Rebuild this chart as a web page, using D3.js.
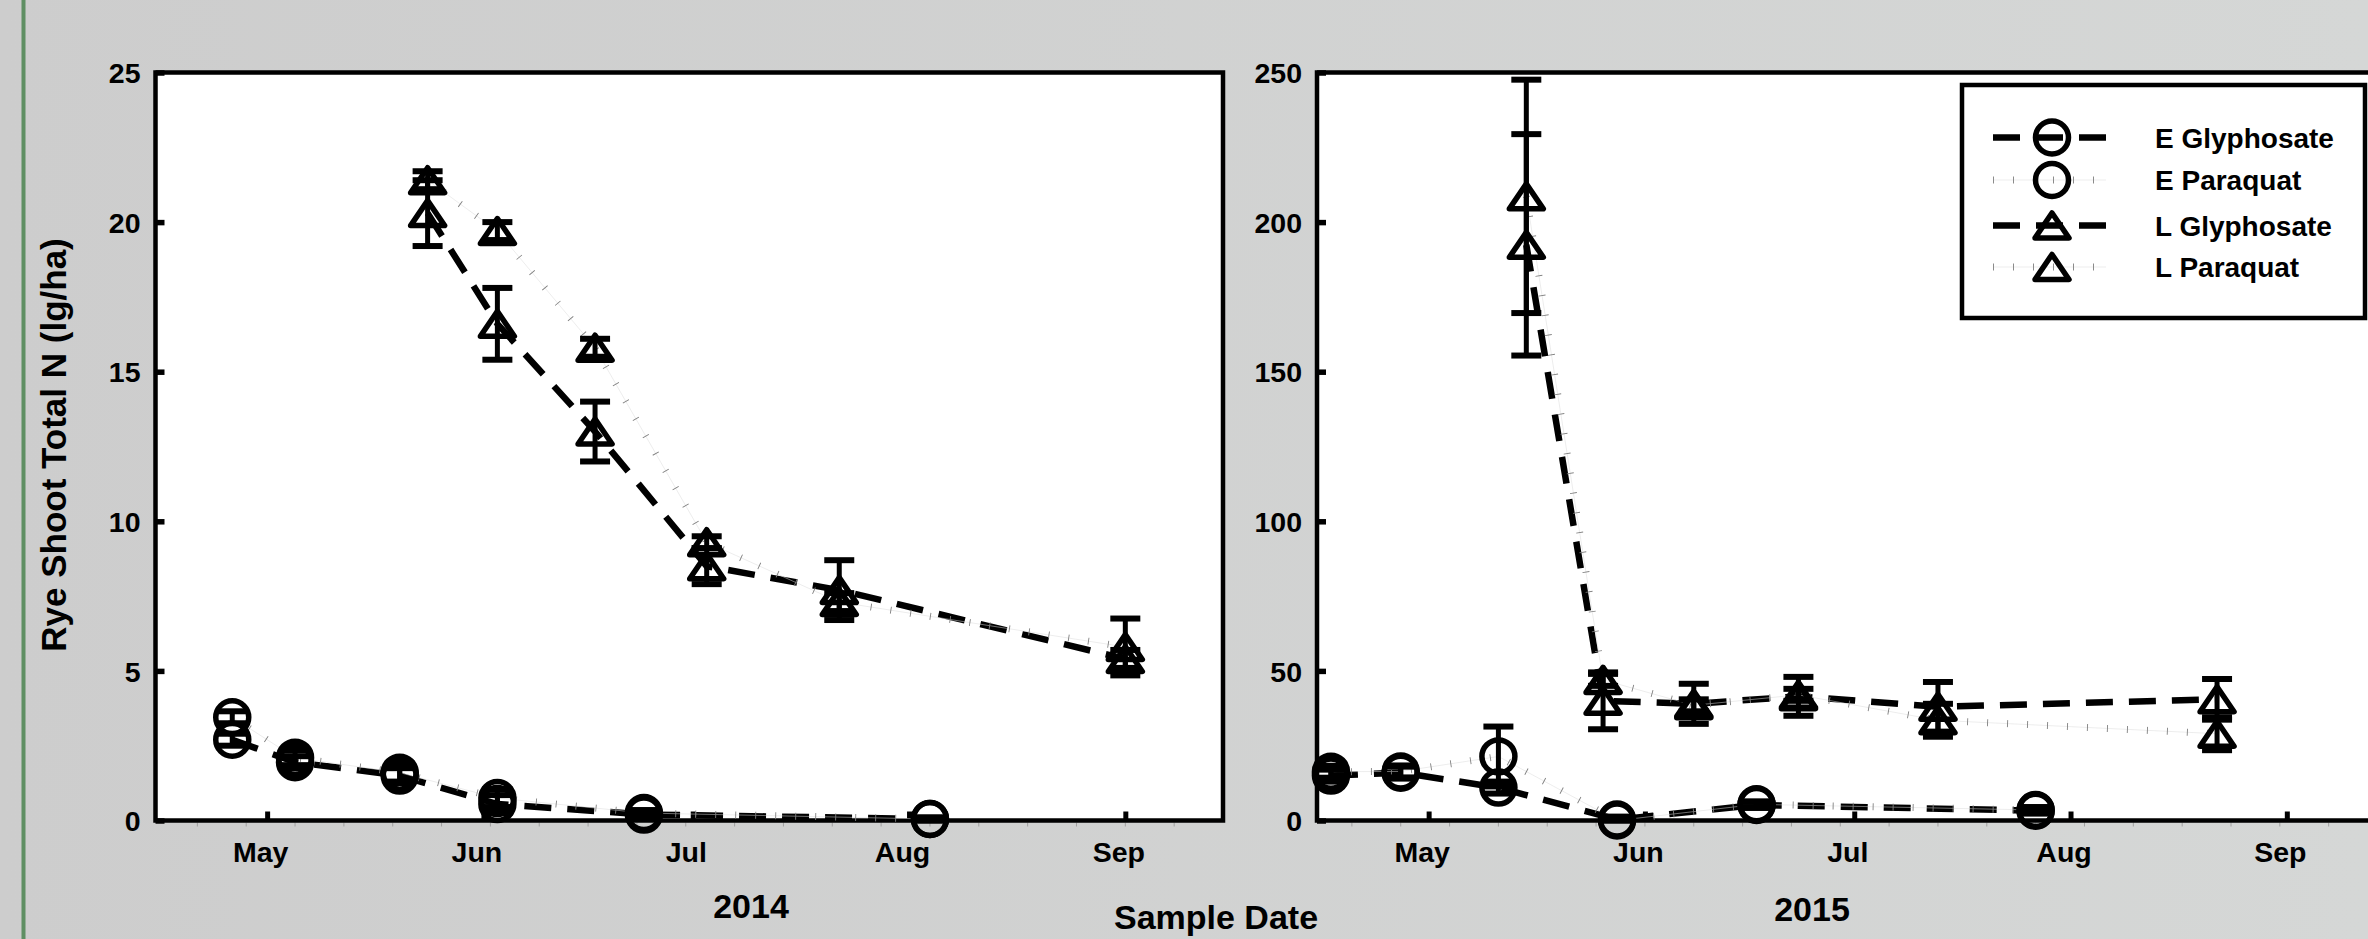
<!DOCTYPE html>
<html><head><meta charset="utf-8">
<script src="https://cdn.jsdelivr.net/npm/d3@7"></script>
<style>
html,body{margin:0;padding:0;background:#d0d0d0;}
svg{display:block}
text{font-family:'Liberation Sans',Arial,sans-serif;font-weight:bold;fill:#000}
</style>
</head><body>
<svg id="c" width="2368" height="939"></svg>
<script>
// ---------------- data ----------------
const seriesNames = ["E Glyphosate", "E Paraquat", "L Glyphosate", "L Paraquat"];
const monthLabels = ["May", "Jun", "Jul", "Aug", "Sep"];
const yearLabels = ["2014", "2015"];
const yTicks2014 = [0, 5, 10, 15, 20, 25];
const yTicks2015 = [0, 50, 100, 150, 200, 250];

// 2014
const eDates2014 = ["2014-04-26", "2014-05-05", "2014-05-20", "2014-06-03", "2014-06-24", "2014-08-04"];
const eGly2014 = [2.7, 1.95, 1.5, 0.55, 0.2, 0.05];
const eGly2014Err = [0.2, 0.2, 0.25, 0.3, 0.1, 0.05];
const ePar2014 = [3.45, 2.1, 1.6, 0.75, 0.25, 0.05];
const ePar2014Err = [0.2, 0.25, 0.3, 0.3, 0.1, 0.05];
const lDates2014 = ["2014-05-24", "2014-06-03", "2014-06-17", "2014-07-03", "2014-07-22", "2014-09-01"];
const lGly2014 = [20.3, 16.6, 13.0, 8.5, 7.7, 5.4];
const lGly2014Err = [1.1, 1.2, 1.0, 0.6, 1.0, 0.3];
const lPar2014 = [21.4, 19.7, 15.8, 9.3, 7.3, 5.8];
const lPar2014Err = [0.3, 0.3, 0.3, 0.2, 0.3, 0.95];

// 2015
const eDates2015 = ["2015-04-17", "2015-04-27", "2015-05-11", "2015-05-28", "2015-06-17", "2015-07-27"];
const eGly2015 = [15.0, 16.0, 11.0, 0.3, 5.2, 3.3];
const eGly2015Err = [2, 2, 2, 1, 1, 1];
const ePar2015 = [16.3, 16.4, 21.4, 0, 5.4, 3.5];
const ePar2015Err = [2, 2, 10, 1, 1, 1];
const lDates2015 = ["2015-05-15", "2015-05-26", "2015-06-08", "2015-06-23", "2015-07-13", "2015-08-22"];
const lGly2015 = [192.4, 40, 39, 41.5, 38, 40.5];
const lGly2015Err = [37, 9.5, 6.7, 6.5, 8.3, 6.8];
const lPar2015 = [208.6, 47, 38.5, 42, 33.5, 29];
const lPar2015Err = [39, 2, 2, 2, 5.5, 5.5];

// ---------------- drawing ----------------
const W = 2368, H = 939;
const parse = d3.timeParse("%Y-%m-%d");
const svg = d3.select("#c");

const defs = svg.append("defs");
const grad = defs.append("linearGradient").attr("id", "bg").attr("x1", 0).attr("x2", 1).attr("y1", 0).attr("y2", 0);
grad.append("stop").attr("offset", 0).attr("stop-color", "#cdcdcd");
grad.append("stop").attr("offset", 1).attr("stop-color", "#d5d7d6");
svg.append("rect").attr("width", W).attr("height", H).attr("fill", "url(#bg)");
svg.append("rect").attr("x", 21.5).attr("y", 0).attr("width", 4).attr("height", H).attr("fill", "#5f8f63");

const TOP = 72.5, BOTTOM = 820.5;
const FRAME_W = 4.5;
const TICK_FONT = "28.5px";

function trianglePath(w, h) {
  return `M0,${-h / 2}L${w / 2},${h / 2}L${-w / 2},${h / 2}Z`;
}

function drawMarker(g, kind, cx, cy) {
  if (kind === "circle") {
    g.append("circle").attr("cx", cx).attr("cy", cy).attr("r", 16.5)
      .attr("fill", "none").attr("stroke", "#000").attr("stroke-width", 5.5);
  } else {
    g.append("path").attr("d", trianglePath(34, 25)).attr("transform", `translate(${cx},${cy})`)
      .attr("fill", "none").attr("stroke", "#000").attr("stroke-width", 5.5).attr("stroke-linejoin", "round");
  }
}

function drawLine(g, pts, style) {
  const line = d3.line().x(d => d[0]).y(d => d[1]);
  if (style === "dash") {
    g.append("path").attr("d", line(pts)).attr("fill", "none").attr("stroke", "#000")
      .attr("stroke-width", 6.5).attr("stroke-dasharray", "27 16");
  } else {
    g.append("path").attr("d", line(pts)).attr("fill", "none").attr("stroke", "#dadada")
      .attr("stroke-width", 0.5);
    g.append("path").attr("d", line(pts)).attr("fill", "none").attr("stroke", "#808080")
      .attr("stroke-width", 7).attr("stroke-dasharray", "0.9 19.1");
  }
}

function drawErr(g, cx, y0, y1) {
  g.append("line").attr("x1", cx).attr("x2", cx).attr("y1", y0).attr("y2", y1)
    .attr("stroke", "#000").attr("stroke-width", 5);
  [y0, y1].forEach(yy => g.append("line").attr("x1", cx - 15).attr("x2", cx + 15)
    .attr("y1", yy).attr("y2", yy).attr("stroke", "#000").attr("stroke-width", 6));
}

function drawPanel(cfg) {
  const x = d3.scaleTime().domain([parse(cfg.start), parse(cfg.end)]).range([cfg.x0, cfg.x1]);
  const y = d3.scaleLinear().domain([0, cfg.ymax]).range([BOTTOM, TOP]);
  const g = svg.append("g");

  g.append("rect").attr("x", cfg.x0).attr("y", TOP).attr("width", cfg.x1 - cfg.x0).attr("height", BOTTOM - TOP)
    .attr("fill", "#fff");

  // weekly minor ticks (outside, faint)
  const mondays = d3.timeMonday.range(x.domain()[0], x.domain()[1]);
  g.selectAll(".mt").data(mondays).join("line")
    .attr("x1", d => x(d)).attr("x2", d => x(d)).attr("y1", BOTTOM + 2).attr("y2", BOTTOM + 6)
    .attr("stroke", "#a0a0a0").attr("stroke-width", 1);

  // axes
  const months = d3.timeMonth.range(x.domain()[0], x.domain()[1]);
  const xAxis = d3.axisBottom(x).tickValues(months).tickSize(-9).tickSizeOuter(0)
    .tickFormat((d, i) => monthLabels[i]);
  const gx = g.append("g").attr("transform", `translate(0,${BOTTOM})`).call(xAxis);
  gx.select(".domain").remove();
  gx.selectAll(".tick line").attr("stroke", "#000").attr("stroke-width", 5);
  gx.selectAll(".tick text").attr("y", 41.5).attr("dy", "0").attr("dx", -7)
    .style("font-size", TICK_FONT).style("font-family", "'Liberation Sans',Arial,sans-serif").style("font-weight", "bold").attr("fill", "#000");

  const yAxis = d3.axisLeft(y).tickValues(cfg.yTicks).tickSize(-9).tickSizeOuter(0).tickPadding(15);
  const gy = g.append("g").attr("transform", `translate(${cfg.x0},0)`).call(yAxis);
  gy.select(".domain").remove();
  gy.selectAll(".tick line").attr("stroke", "#000").attr("stroke-width", 5.5);
  gy.selectAll(".tick text").attr("dy", "0.36em")
    .style("font-size", TICK_FONT).style("font-family", "'Liberation Sans',Arial,sans-serif").style("font-weight", "bold").attr("fill", "#000");

  // frame
  g.append("rect").attr("x", cfg.x0).attr("y", TOP).attr("width", cfg.x1 - cfg.x0).attr("height", BOTTOM - TOP)
    .attr("fill", "none").attr("stroke", "#000").attr("stroke-width", FRAME_W);

  // series
  cfg.series.forEach(s => {
    const pts = s.dates.map((d, i) => [x(parse(d)), y(s.vals[i])]);
    drawLine(g, pts, s.line);
  });
  cfg.series.forEach(s => {
    s.dates.forEach((d, i) => {
      const cx = x(parse(d));
      drawErr(g, cx, y(s.vals[i] + s.err[i]), y(Math.max(0, s.vals[i] - s.err[i])));
    });
  });
  cfg.series.forEach(s => {
    s.dates.forEach((d, i) => drawMarker(g, s.kind, x(parse(d)), y(s.vals[i])));
  });

  svg.append("text").attr("x", cfg.yearX).attr("y", cfg.yearY).attr("text-anchor", "middle")
    .style("font-size", "34px").text(cfg.year);
}

drawPanel({
  start: "2014-04-15", end: "2014-09-15", x0: 155.5, x1: 1223, ymax: 25, yTicks: yTicks2014,
  year: yearLabels[0], yearX: 751, yearY: 918,
  series: [
    {dates: eDates2014, vals: eGly2014, err: eGly2014Err, kind: "circle", line: "dash"},
    {dates: eDates2014, vals: ePar2014, err: ePar2014Err, kind: "circle", line: "dot"},
    {dates: lDates2014, vals: lGly2014, err: lGly2014Err, kind: "tri", line: "dash"},
    {dates: lDates2014, vals: lPar2014, err: lPar2014Err, kind: "tri", line: "dot"}
  ]
});
drawPanel({
  start: "2015-04-15", end: "2015-09-15", x0: 1317, x1: 2384.5, ymax: 250, yTicks: yTicks2015,
  year: yearLabels[1], yearX: 1812, yearY: 921,
  series: [
    {dates: eDates2015, vals: eGly2015, err: eGly2015Err, kind: "circle", line: "dash"},
    {dates: eDates2015, vals: ePar2015, err: ePar2015Err, kind: "circle", line: "dot"},
    {dates: lDates2015, vals: lGly2015, err: lGly2015Err, kind: "tri", line: "dash"},
    {dates: lDates2015, vals: lPar2015, err: lPar2015Err, kind: "tri", line: "dot"}
  ]
});

// axis titles
svg.append("text").attr("transform", "translate(53,445) rotate(-90)").attr("text-anchor", "middle")
  .attr("dominant-baseline", "central").style("font-size", "35px").text("Rye Shoot Total N (lg/ha)");
svg.append("text").attr("x", 1216).attr("y", 929).attr("text-anchor", "middle")
  .style("font-size", "34px").text("Sample Date");

// legend
const lg = svg.append("g");
lg.append("rect").attr("x", 1962).attr("y", 85).attr("width", 403).attr("height", 233)
  .attr("fill", "#fff").attr("stroke", "#000").attr("stroke-width", 4.5);
const legRowY = [137.5, 180, 225.5, 267];
const legKinds = [["circle", "dash"], ["circle", "dot"], ["tri", "dash"], ["tri", "dot"]];
seriesNames.forEach((name, i) => {
  const yy = legRowY[i];
  drawLine(lg, [[1993, yy], [2106, yy]], legKinds[i][1]);
  drawMarker(lg, legKinds[i][0], 2052, yy);
  lg.append("text").attr("x", 2155).attr("y", yy).attr("dy", "0.36em")
    .style("font-size", "28px").text(name);
});
</script>
</body></html>
